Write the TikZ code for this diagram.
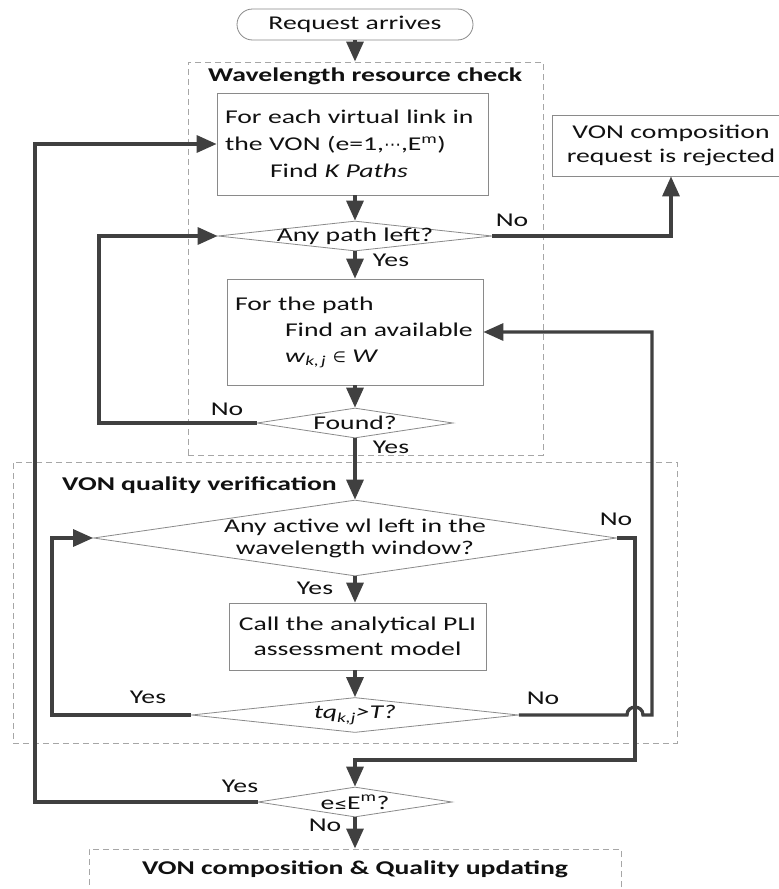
\documentclass[tikz,border=0pt]{standalone}
\usepackage{fontspec}
\setmainfont{Carlito}[FakeStretch=1.42]
\newfontfamily\symf{DejaVu Sans}
\usetikzlibrary{arrows.meta,shapes.geometric}
\definecolor{lineclr}{HTML}{404040}
\definecolor{boxclr}{HTML}{8A8A8A}
\definecolor{groupclr}{HTML}{A6A6A6}
\definecolor{txtclr}{HTML}{111111}

\tikzset{
  txt/.style={font=\fontsize{19.5}{22}\selectfont, text=txtclr, inner sep=0pt},
  ttl/.style={txt, font=\fontsize{19.5}{22}\selectfont\bfseries},
  procbox/.style={draw=boxclr, line width=0.8pt, fill=white, inner sep=8pt,
    text=txtclr, align=left},
  termbox/.style={draw=boxclr, line width=0.8pt, rounded corners=15.5pt,
    minimum width=236pt, minimum height=31pt, inner sep=0pt, text=txtclr,
    font=\fontsize{19.5}{22}\selectfont},
  decision/.style={diamond, draw=boxclr, line width=0.8pt, fill=white,
    inner sep=0pt},
  groupbox/.style={draw=groupclr, line width=1pt, dash pattern=on 6pt off 4pt},
  conn/.style={draw=lineclr, line width=3.3pt,
    -{Triangle[length=20pt,width=17pt]}},
}

\begin{document}
\begin{tikzpicture}[x=1pt,y=-1pt]
\clip (0,0) rectangle (779,889);
\fill[white] (0,0) rectangle (779,889);

% dashed stage frames
\node[groupbox, minimum width=355pt, minimum height=393pt] (grp1) at (365.5,258.5) {};
\node[groupbox, minimum width=664pt, minimum height=281pt] (grp2) at (345,602.5) {};
\node[groupbox, minimum width=532pt, minimum height=56pt] (grp3) at (355,877) {};

\node[ttl, anchor=west] (ttl1) at (208,76) {Wavelength resource check};
\node[ttl, anchor=west] (ttl2) at (62,485) {VON quality verification};
\node[ttl] (ttl3) at (355,869) {VON composition \& Quality updating};

% start terminal
\node[termbox] (start) at (355,24.5) {Request arrives};

% wavelength resource check
\node[procbox, text width=255pt, minimum height=102pt,
  font=\fontsize{19.5}{27}\selectfont] (box1) at (352.5,144)
  {For each virtual link in\\
   the VON (e=1,{\symf\fontsize{17}{17}\selectfont ⋯},E\textsuperscript{m})\\
   \hspace*{45pt}Find \textit{K Paths}};

\node[procbox, align=center, text width=222pt, minimum height=61pt,
  font=\fontsize{19.5}{24}\selectfont] (rej) at (671,145.5)
  {VON composition\\request is rejected};

\node[decision, minimum width=274pt, minimum height=30pt] (q1) at (355,236) {};
\node[txt] (q1t) at (q1) {Any path left?};

\node[procbox, text width=240pt, minimum height=106pt,
  font=\fontsize{19.5}{26}\selectfont] (box2) at (355,332)
  {For the path\\
   \hspace*{50pt}Find an available\\
   \hspace*{50pt}\textit{w}\textsubscript{\textit{k,\,j}}\ {\symf\fontsize{15}{15}\selectfont ∈}\ \textit{W}};

\node[decision, minimum width=196pt, minimum height=30pt] (found) at (355,423) {};
\node[txt] (foundt) at (found) {Found?};

% VON quality verification
\node[decision, minimum width=523pt, minimum height=76pt] (d3) at (355,538) {};
\node[txt, align=center] (d3t) at (d3) {Any active wl left in the\\wavelength window?};

\node[procbox, align=center, text width=241pt, minimum height=67pt,
  font=\fontsize{19.5}{25}\selectfont] (box3) at (357.5,636.5)
  {Call the analytical PLI\\assessment model};

\node[decision, minimum width=327pt, minimum height=35pt] (tq) at (355,715) {};
\node[txt] (tqt) at (tq) {\textit{tq\textsubscript{k,j}>T?}};

\node[decision, minimum width=194pt, minimum height=30pt] (eq) at (355,802) {};
\node[txt] (eqt) at (eq) {e{\symf\fontsize{15}{15}\selectfont ≤}E\textsuperscript{m}?};

% corner points of the loops
\coordinate (loopA) at (99,423);
\coordinate (loopB) at (52,715);
\coordinate (hopL) at (627,715);
\coordinate (hopR) at (643,715);
\coordinate (loopC) at (652,715);
\coordinate (loopD) at (635,538);
\coordinate (loopE) at (635,760);
\coordinate (loopF) at (35,802);

% connectors
\draw[conn] (start.south) -- (start.south |- grp1.north);
\draw[conn] (box1.south -| q1.north) -- (q1.north);
\draw[conn] (q1.east) -- (q1.east -| rej.south) -- (rej.south);
\draw[conn] (q1.south) -- (box2.north);
\draw[conn] (box2.south) -- (found.north);
\draw[conn] (found.west) -- (loopA) |- (q1.west);
\draw[conn] (found.south) -- (d3.north);
\draw[conn] (d3.south) -- (d3.south |- box3.north);
\draw[conn] (box3.south -| tq.north) -- (tq.north);
\draw[conn] (tq.west) -- (loopB) |- (d3.west);
\draw[conn] (d3.east) -- (loopD) -- (loopE) -| (eq.north);
\draw[conn] (tq.east) -- (hopL) .. controls +(0,-10.5) and +(0,-10.5) .. (hopR)
  -- (loopC) |- (box2.east);
\draw[conn] (eq.west) -- (loopF) |- (box1.west);
\draw[conn] (eq.south) -- (eq.south |- grp3.north);

% branch labels
\node[txt] (lNo1) at (512,220) {No};
\node[txt] (lYes1) at (391,260) {Yes};
\node[txt] (lNo2) at (227,409) {No};
\node[txt] (lYes2) at (391,447) {Yes};
\node[txt] (lNo3) at (616,519) {No};
\node[txt] (lYes3) at (315,588) {Yes};
\node[txt] (lYes4) at (148,697) {Yes};
\node[txt] (lNo4) at (543,698) {No};
\node[txt] (lYes5) at (240,786) {Yes};
\node[txt] (lNo5) at (325,825) {No};
\end{tikzpicture}
\end{document}
